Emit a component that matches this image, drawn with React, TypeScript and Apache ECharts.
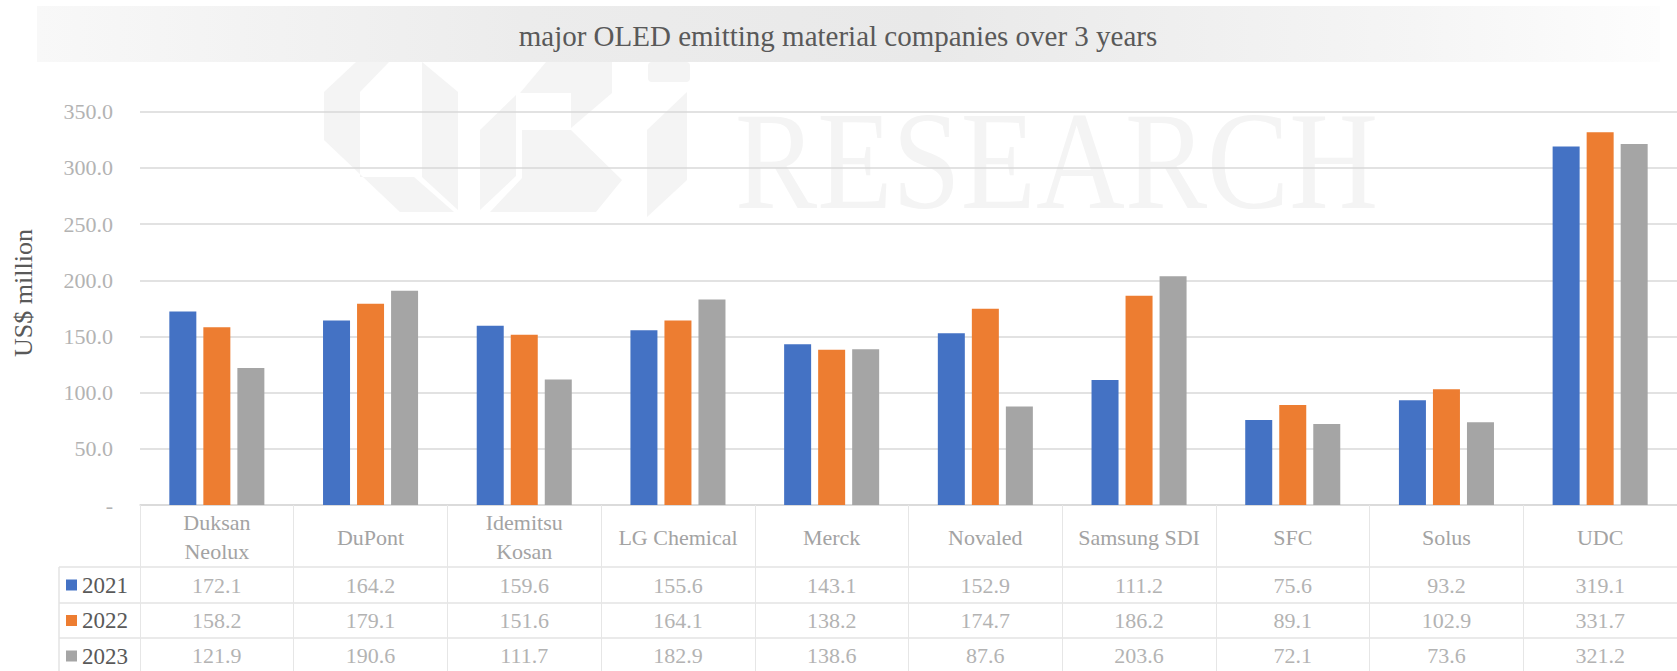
import React, { useEffect, useRef } from "react";
import * as echarts from "echarts";

const categories = [
  "Duksan\nNeolux",
  "DuPont",
  "Idemitsu\nKosan",
  "LG Chemical",
  "Merck",
  "Novaled",
  "Samsung SDI",
  "SFC",
  "Solus",
  "UDC",
];
const years = ["2021", "2022", "2023"];
const values2021 = [172.1, 164.2, 159.6, 155.6, 143.1, 152.9, 111.2, 75.6, 93.2, 319.1];
const values2022 = [158.2, 179.1, 151.6, 164.1, 138.2, 174.7, 186.2, 89.1, 102.9, 331.7];
const values2023 = [121.9, 190.6, 111.7, 182.9, 138.6, 87.6, 203.6, 72.1, 73.6, 321.2];
const seriesValues = [values2021, values2022, values2023];
const colors = ["#4472C4", "#ED7D31", "#A5A5A5"];
const yTicks = { min: 0, max: 350, interval: 50 };

const titleText = "major OLED emitting material companies over 3 years";
const yAxisTitle = "US$ million";

const FONT = "'Liberation Serif', 'Times New Roman', serif";

export default function App() {
  const ref = useRef<HTMLDivElement>(null);
  useEffect(() => {
    if (!ref.current) return;
    const chart = echarts.init(ref.current, undefined, { renderer: "svg" });
    const gridLeft = 140;
    const gridTop = 111.7;
    const gridBottom = 166;
    const axisY = 505;
    const rowCenters = [585, 620.5, 655.5];
    const wm = "#f4f4f4";

    const valueAxes = seriesValues.map((vals, k) => ({
      type: "category",
      gridIndex: 0,
      position: "bottom",
      data: categories,
      axisLine: { show: false },
      axisTick: { show: false },
      splitLine: { show: false },
      axisLabel: {
        interval: 0,
        margin: rowCenters[k] - axisY,
        verticalAlign: "middle",
        fontFamily: FONT,
        fontSize: 22,
        color: "#b3b3b3",
        formatter: (_v: string, i: number) => vals[i].toFixed(1),
      },
    }));

    const option: any = {
      animation: false,
      backgroundColor: "#ffffff",
      grid: { left: gridLeft, top: gridTop, width: 1549, bottom: gridBottom, containLabel: false },
      legend: {
        orient: "vertical",
        left: 66,
        top: 573,
        padding: 0,
        itemWidth: 11,
        itemHeight: 11,
        itemGap: 11.5,
        icon: "rect",
        data: years,
        textStyle: { fontFamily: FONT, fontSize: 23, lineHeight: 24, color: "#595959" },
      },
      xAxis: [
        {
          type: "category",
          data: categories,
          axisLine: { show: true, lineStyle: { color: "#d9d9d9", width: 1.5 } },
          axisTick: { show: true, interval: 0, length: 166, lineStyle: { color: "#e6e6e6", width: 1 } },
          axisLabel: {
            interval: 0,
            margin: 32,
            verticalAlign: "middle",
            lineHeight: 29,
            fontFamily: FONT,
            fontSize: 22,
            color: "#a3a3a3",
          },
        },
        ...valueAxes,
      ],
      yAxis: {
        type: "value",
        min: yTicks.min,
        max: yTicks.max,
        interval: yTicks.interval,
        axisLine: { show: false },
        axisTick: { show: false },
        splitLine: { lineStyle: { color: "#d9d9d9", width: 1.5 } },
        axisLabel: {
          margin: 27,
          fontFamily: FONT,
          fontSize: 22,
          color: "#b3b3b3",
          formatter: (v: number) => (v === 0 ? "-" : v.toFixed(1)),
        },
      },
      series: years.map((y, k) => ({
        name: y,
        type: "bar",
        xAxisIndex: 0,
        data: seriesValues[k],
        barWidth: 27,
        barGap: "26%",
        itemStyle: { color: colors[k] },
      })),
      graphic: [
        // watermark
        {
          type: "text",
          z: -10,
          silent: true,
          x: 735,
          y: 161,
          scaleX: 0.886,
          style: {
            text: "RESEARCH",
            fontFamily: FONT,
            fontSize: 139,
            fill: wm,
            textAlign: "left",
            textVerticalAlign: "middle",
          },
        },
        { type: "polygon", z: -10, silent: true, shape: { points: [[356, 62], [389, 62], [360, 92], [360, 177], [414, 177], [454, 212], [400, 212], [324, 140], [324, 92]] }, style: { fill: wm } },
        { type: "polygon", z: -10, silent: true, shape: { points: [[422, 62], [458, 92], [458, 210], [422, 177]] }, style: { fill: wm } },
        { type: "polygon", z: -10, silent: true, shape: { points: [[516, 95], [480, 130], [480, 210], [516, 176]] }, style: { fill: wm } },
        { type: "polygon", z: -10, silent: true, shape: { points: [[522, 130], [571, 130], [622, 180], [596, 212], [490, 212], [522, 178]] }, style: { fill: wm } },
        { type: "polygon", z: -10, silent: true, shape: { points: [[520, 93], [546, 62], [612, 62], [612, 93], [571, 128], [571, 93]] }, style: { fill: wm } },
        { type: "polygon", z: -10, silent: true, shape: { points: [[647, 130], [687, 92], [687, 180], [647, 217]] }, style: { fill: wm } },
        { type: "rect", z: -10, silent: true, shape: { x: 648, y: 62, width: 42, height: 20, r: 4 }, style: { fill: wm } },
        // title band
        {
          type: "rect",
          silent: true,
          shape: { x: 37, y: 6, width: 1623, height: 56 },
          style: {
            fill: new echarts.graphic.LinearGradient(0, 0, 1, 0, [
              { offset: 0, color: "#f8f8f8" },
              { offset: 0.3, color: "#ececec" },
              { offset: 0.55, color: "#e9e9e9" },
              { offset: 0.85, color: "#f5f5f5" },
              { offset: 1, color: "#fdfdfd" },
            ]),
          },
        },
        {
          type: "text",
          silent: true,
          x: 838,
          y: 36,
          style: {
            text: titleText,
            fontFamily: FONT,
            fontSize: 29,
            fill: "#595959",
            textAlign: "center",
            textVerticalAlign: "middle",
          },
        },
        {
          type: "text",
          silent: true,
          x: 23,
          y: 293,
          rotation: Math.PI / 2,
          style: {
            text: yAxisTitle,
            fontFamily: FONT,
            fontSize: 26,
            fill: "#595959",
            textAlign: "center",
            textVerticalAlign: "middle",
          },
        },
        // data table lines
        { type: "line", silent: true, shape: { x1: 59, y1: 567, x2: 1677, y2: 567 }, style: { stroke: "#e3e3e3", lineWidth: 1.5 } },
        { type: "line", silent: true, shape: { x1: 59, y1: 603, x2: 1677, y2: 603 }, style: { stroke: "#e3e3e3", lineWidth: 1.5 } },
        { type: "line", silent: true, shape: { x1: 59, y1: 638, x2: 1677, y2: 638 }, style: { stroke: "#e3e3e3", lineWidth: 1.5 } },
        { type: "line", silent: true, shape: { x1: 59, y1: 567, x2: 59, y2: 671 }, style: { stroke: "#e3e3e3", lineWidth: 1.5 } },
      ],
    };
    chart.setOption(option);
    return () => chart.dispose();
  }, []);
  return (
    <div
      ref={ref}
      style={{ position: "absolute", left: 0, top: 0, width: 1677, height: 671 }}
    />
  );
}
